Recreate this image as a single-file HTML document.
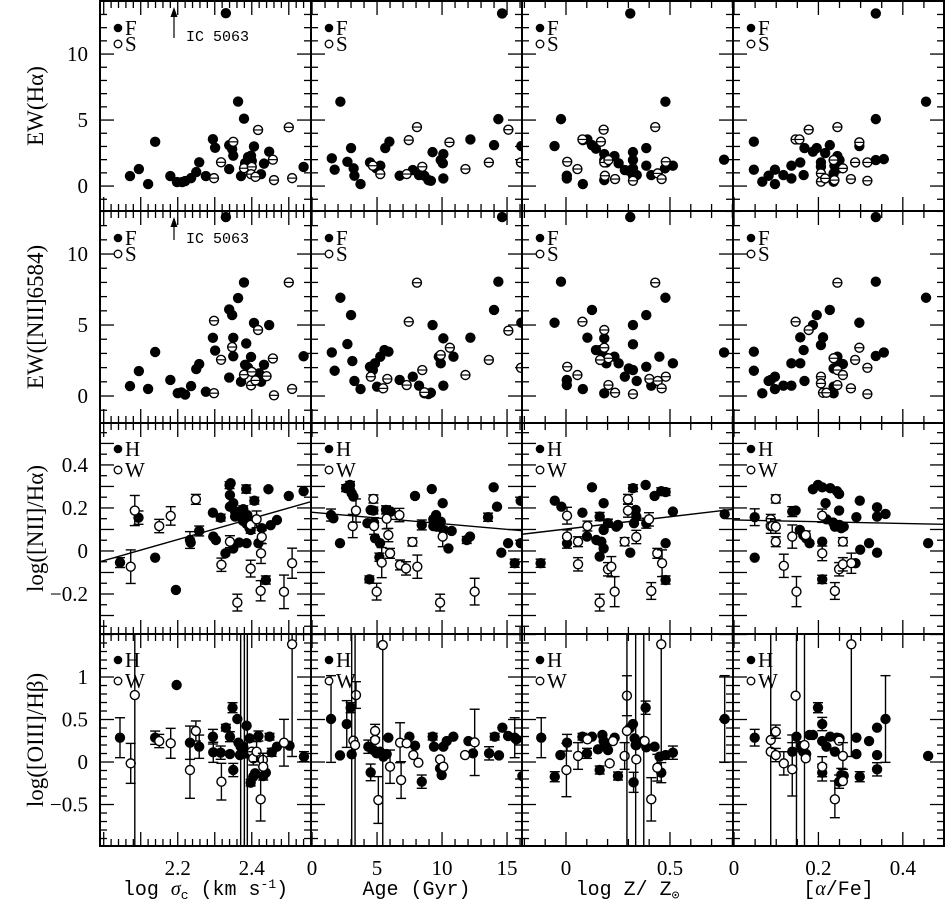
<!DOCTYPE html>
<html><head><meta charset="utf-8"><style>
html,body{margin:0;padding:0;background:#fff;overflow:hidden;width:946px;height:910px;}
svg{display:block;}
</style></head><body>
<svg id="chart" width="946" height="910" viewBox="0 0 946 910" xmlns="http://www.w3.org/2000/svg"></svg>
<script>
// ---------- DATA ----------
const p11FX=[2.071,2.095,2.12,2.139,2.18,2.198,2.212,2.22,2.236,2.25,2.258,2.276,2.295,2.301,2.33,2.339,2.339,2.347,2.35,2.363,2.371,2.379,2.382,2.39,2.4,2.398,2.406,2.425,2.433,2.447,2.54];
const p11FY=[0.76,1.29,0.15,3.35,0.76,0.3,0.3,0.38,0.6,1.06,1.8,0.76,3.55,2.9,13.1,1.29,3.1,2.8,2.3,6.4,0.76,5.1,1.74,2.2,1.9,2.3,3.0,0.9,1.7,2.6,1.45];
const p11OX=[2.298,2.317,2.35,2.379,2.4,2.398,2.41,2.417,2.457,2.46,2.5,2.509];
const p11OY=[0.6,1.8,3.35,1.35,1.45,0.9,0.7,4.25,2.0,0.45,4.45,0.6];

const p12FX=[2.071,2.095,2.12,2.139,2.18,2.2,2.21,2.22,2.236,2.25,2.258,2.276,2.295,2.301,2.33,2.339,2.347,2.35,2.339,2.35,2.363,2.371,2.379,2.385,2.382,2.39,2.398,2.406,2.42,2.433,2.447,2.425,2.43,2.54];
const p12FY=[0.7,1.76,0.5,3.1,1.13,0.2,0.25,0.1,0.7,1.9,2.25,0.3,4.1,3.2,12.6,6.1,5.7,4.1,1.3,2.8,6.9,1.0,8.0,3.7,2.2,2.0,2.75,5.15,1.6,2.2,5.0,1.0,1.3,2.8];
const p12OX=[2.298,2.298,2.317,2.347,2.379,2.4,2.398,2.41,2.417,2.44,2.457,2.46,2.5,2.509];
const p12OY=[5.3,0.2,2.55,3.45,1.5,1.7,0.75,1.1,4.65,1.4,2.65,0.05,8.0,0.5];

const p21FX=[2.18,3.0,1.52,1.74,2.72,3.2,3.26,3.73,4.46,4.94,5.25,5.63,5.95,6.74,7.75,8.23,8.64,8.95,9.14,9.27,10.1,9.9,10.06,10.1,12.18,14.0,14.33,14.62,16.1];
const p21FY=[6.39,2.88,2.1,1.24,1.84,1.34,0.78,0.15,1.79,1.34,1.54,2.88,3.36,0.78,1.21,0.83,0.78,0.45,0.4,2.57,2.42,1.97,1.72,0.58,3.53,3.1,5.07,13.08,3.03];
const p21OX=[4.68,5.25,7.44,8.07,7.28,8.48,10.57,11.8,13.6,15.1,16.07];
const p21OY=[1.54,0.91,3.48,4.47,0.91,1.46,3.31,1.29,1.79,4.27,1.79];

const p22FX=[1.52,1.74,2.18,2.72,3.0,3.1,3.26,3.73,4.46,4.68,4.84,5.0,5.25,5.57,5.88,6.74,7.75,8.23,8.64,8.95,9.14,9.27,10.1,9.75,9.9,10.1,10.88,12.18,14.0,14.33,14.62,16.1];
const p22FY=[3.07,1.78,6.92,3.66,5.7,2.46,1.06,0.49,2.06,1.83,2.3,0.66,2.77,3.24,3.12,1.13,1.36,0.73,0.19,0.14,0.23,5.0,4.06,2.77,2.3,0.73,2.77,4.11,6.06,8.05,12.6,5.16];
const p22OX=[4.52,5.47,5.79,7.28,7.44,8.07,8.48,8.64,10.6,9.9,11.8,13.6,15.1,16.07];
const p22OY=[1.36,0.54,1.2,0.77,5.23,7.98,1.83,0.26,3.4,2.89,1.48,2.54,4.6,1.99];

const p31FX=[-0.055,-0.024,0.004,0.004,0.081,0.081,0.103,0.125,0.144,0.184,0.184,0.194,0.233,0.253,0.283,0.302,0.322,0.322,0.322,0.322,0.34,0.386,0.386,0.41,0.478,0.476,0.514,0.309,0.184,0.76];
const p31FY=[3.03,5.07,0.78,0.58,0.15,3.48,3.53,3.1,2.83,2.42,1.97,1.79,2.27,1.72,1.21,1.16,2.57,1.97,1.34,0.78,0.83,2.88,1.54,0.83,6.39,1.34,1.54,13.08,0.45,2.0];
const p31OX=[0.006,0.055,0.079,0.168,0.181,0.184,0.204,0.187,0.236,0.322,0.429,0.441,0.46,0.48];
const p31OY=[1.84,1.29,3.53,3.36,4.27,1.79,1.97,0.78,0.53,0.4,4.47,0.96,0.53,1.84];

const p32FX=[-0.055,-0.024,0.004,0.004,0.081,0.103,0.125,0.144,0.164,0.184,0.184,0.194,0.233,0.253,0.283,0.302,0.322,0.322,0.322,0.34,0.386,0.386,0.41,0.449,0.478,0.514,0.309,0.184,0.76];
const p32FY=[5.16,8.05,1.13,0.77,0.49,4.11,6.06,3.24,3.24,4.06,2.77,2.3,2.77,2.3,1.36,1.94,5.0,3.64,1.83,1.06,5.7,2.06,0.73,2.77,6.92,2.3,12.6,0.19,3.07];
const p32OX=[0.006,0.055,0.079,0.184,0.184,0.204,0.164,0.204,0.236,0.322,0.429,0.401,0.441,0.46,0.48];
const p32OY=[2.06,1.48,5.23,4.65,3.4,2.66,2.54,0.77,0.23,0.14,7.98,1.2,1.06,0.54,1.36];

const p41FX=[0.047,0.047,0.067,0.082,0.097,0.097,0.117,0.136,0.136,0.157,0.165,0.167,0.187,0.196,0.206,0.206,0.216,0.227,0.236,0.236,0.245,0.25,0.297,0.336,0.336,0.355,0.336,0.455,0.238,0.248];
const p41FY=[3.36,1.24,0.33,0.78,1.24,0.15,0.83,1.54,0.58,1.79,0.83,2.88,2.6,2.88,1.79,1.46,2.5,3.1,0.33,0.96,2.27,1.97,3.03,5.07,1.97,2.04,13.08,6.39,1.54,1.34];
const p41OX=[0.146,0.177,0.155,0.206,0.206,0.216,0.236,0.245,0.258,0.277,0.287,0.297,0.316,0.316,0.238];
const p41OY=[3.53,4.27,3.53,0.96,0.33,0.58,1.97,4.47,1.34,0.53,1.79,3.31,1.79,0.4,0.45];

const p42FX=[0.047,0.047,0.067,0.082,0.087,0.097,0.097,0.117,0.136,0.136,0.157,0.157,0.165,0.167,0.187,0.196,0.206,0.211,0.227,0.236,0.236,0.245,0.25,0.258,0.297,0.336,0.336,0.355,0.336,0.455,0.236];
const p42FY=[3.12,1.78,0.19,1.06,1.13,1.36,0.49,0.73,0.73,2.3,4.13,2.3,3.24,1.06,5.0,5.7,3.59,4.13,6.06,0.19,0.66,2.77,2.3,2.25,5.16,8.05,2.82,3.07,12.6,6.92,1.94];
const p42OX=[0.146,0.177,0.206,0.206,0.211,0.219,0.236,0.245,0.245,0.258,0.277,0.287,0.297,0.316,0.316,0.245];
const p42OY=[5.23,4.65,1.36,0.89,0.23,0.23,2.66,1.83,7.98,1.48,0.54,2.54,3.4,1.99,0.14,0.77];

const p13FX=[2.044,2.094,2.139,2.195,2.233,2.235,2.258,2.295,2.296,2.303,2.316,2.329,2.34,2.341,2.341,2.35,2.35,2.355,2.355,2.366,2.366,2.368,2.377,2.382,2.385,2.386,2.388,2.394,2.397,2.407,2.418,2.427,2.438,2.445,2.451,2.468,2.5,2.54,2.343,2.386,2.376];
const p13FY=[-0.054,0.155,-0.031,-0.181,0.051,0.039,0.093,0.178,0.067,0.051,0.155,-0.011,0.306,0.26,0.206,0.222,0.012,0.183,0.16,0.039,0.167,0.183,0.194,0.144,0.288,0.036,0.167,0.106,0.098,0.234,0.036,0.106,-0.135,0.287,0.12,0.144,0.256,0.278,0.315,0.126,0.14];
const p13FE=[0.023,0.031,0,0,0.039,0,0.023,0,0,0,0.016,0,0.016,0,0,0,0,0,0,0,0,0,0.016,0,0.019,0,0,0,0,0.016,0,0,0.019,0,0,0,0,0,0,0,0];
const p13OX=[2.073,2.084,2.15,2.181,2.249,2.318,2.341,2.361,2.397,2.397,2.413,2.425,2.427,2.424,2.487,2.509];
const p13OY=[-0.073,0.188,0.116,0.163,0.24,-0.064,0.043,-0.24,-0.082,0.121,0.147,-0.011,0.065,-0.185,-0.19,-0.057];
const p13OE=[0.078,0.07,0.031,0.043,0.023,0.031,0.028,0.039,0.039,0.039,0.039,0.047,0.031,0.047,0.078,0.07];
const p13Fit=[0.49,-1.025];

const p23FX=[1.46,1.64,2.15,2.62,2.92,3.05,3.18,4.26,4.41,4.51,4.72,4.77,4.85,5.18,5.23,5.69,6.05,7.92,8.44,9.21,9.33,9.54,9.59,9.9,10.05,10.1,10.49,10.74,11.9,12.15,9.33,13.54,13.97,14.23,14.56,15.08,15.59,16.05,16.05];
const p23FY=[0.167,0.152,0.036,0.292,0.307,0.268,0.253,0.129,-0.132,0.191,0.188,0.132,0.059,-0.029,0.036,0.191,0.183,0.256,0.121,0.288,0.147,0.167,0.113,0.136,0.222,0.098,0.012,0.093,0.051,0.067,0.116,0.157,0.296,0.206,-0.008,0.036,-0.057,0.233,0.036];
const p23FE=[0.028,0,0,0.016,0.016,0,0,0,0.016,0,0.016,0,0,0.019,0,0.019,0,0,0.023,0,0,0,0,0,0,0,0,0,0.016,0,0,0.019,0,0,0,0,0.019,0,0];
const p23OX=[3.13,3.38,4.72,4.77,4.97,5.36,5.74,5.87,6.0,6.72,6.77,7.23,7.72,8.1,9.85,10.05,12.51];
const p23OY=[0.116,0.188,0.242,0.116,-0.189,-0.054,0.15,0.074,-0.011,0.167,-0.065,-0.081,0.042,-0.073,-0.24,0.067,-0.189];
const p23OE=[0.054,0.054,0.019,0.039,0.039,0.07,0.047,0.031,0.023,0.031,0.023,0.031,0.019,0.054,0.039,0.047,0.062];
const p23Fit=[-0.0053,0.18];

const p33FX=[-0.122,-0.054,-0.022,0.005,0.079,0.101,0.125,0.146,0.162,0.162,0.17,0.181,0.181,0.181,0.202,0.242,0.25,0.309,0.322,0.335,0.338,0.327,0.383,0.386,0.426,0.458,0.479,0.479,0.479,0.514,0.763];
const p33FY=[-0.057,0.234,0.206,0.036,0.178,0.067,0.296,0.051,0.16,-0.026,0.043,0.222,0.098,0.012,0.129,0.113,0.121,-0.008,0.292,0.191,0.16,0.129,0.307,0.129,0.256,0.278,0.274,0.036,-0.135,0.183,0.171];
const p33FE=[0.019,0,0,0.023,0,0,0,0,0.019,0,0,0,0,0,0.019,0,0,0,0.016,0,0,0,0,0.023,0,0.016,0.016,0,0.019,0,0];
const p33OX=[0.005,0.005,0.058,0.058,0.103,0.162,0.202,0.218,0.234,0.282,0.298,0.298,0.338,0.399,0.41,0.439,0.462];
const p33OY=[0.164,0.067,0.043,-0.062,0.116,-0.24,-0.085,-0.073,-0.189,0.043,0.24,0.188,0.065,0.147,-0.186,-0.011,-0.057];
const p33OE=[0.039,0.031,0.023,0.031,0.023,0.039,0.031,0.047,0.07,0.019,0.023,0.031,0.031,0.031,0.039,0.023,0.062];
const p33Fit=[0.1145,0.102];

const p43FX=[0.049,0.049,0.138,0.146,0.156,0.164,0.171,0.179,0.187,0.199,0.209,0.209,0.209,0.217,0.219,0.228,0.235,0.239,0.244,0.249,0.249,0.25,0.254,0.26,0.29,0.298,0.299,0.32,0.339,0.339,0.339,0.359,0.288,0.46];
const p43FY=[0.157,-0.031,0.183,0.188,0.098,0.074,0.059,0.036,0.287,0.307,0.296,0.043,-0.132,0.222,0.147,0.292,0.132,0.113,0.278,0.265,0.188,0.121,0.106,0.113,0.157,0.234,0.006,0.036,0.203,0.16,-0.008,0.172,-0.057,0.036];
const p43FE=[0.039,0,0.023,0,0,0,0,0,0,0,0,0,0.019,0,0,0,0,0,0,0,0,0,0,0,0,0,0,0,0,0,0,0,0,0];
const p43OX=[0.087,0.087,0.091,0.099,0.099,0.099,0.118,0.138,0.148,0.17,0.209,0.209,0.239,0.249,0.258,0.258,0.278];
const p43OY=[0.147,0.116,0.116,0.242,0.113,0.043,-0.069,0.067,-0.189,0.074,0.164,-0.011,-0.186,-0.085,0.043,-0.062,-0.057];
const p43OE=[0.023,0.034,0,0.019,0.031,0.023,0.054,0.054,0.07,0.019,0.031,0.034,0.039,0.031,0.019,0.031,0.047];
const p43Fit=[-0.04,0.144];

const p14FX=[2.044,2.139,2.197,2.233,2.258,2.295,2.296,2.316,2.33,2.341,2.348,2.341,2.35,2.361,2.364,2.368,2.377,2.37,2.38,2.386,2.388,2.394,2.397,2.404,2.409,2.418,2.431,2.438,2.448,2.454,2.468,2.502,2.541];
const p14FY=[0.286,0.286,0.906,0.227,0.18,0.298,0.114,0.11,0.404,0.298,0.639,0.094,-0.094,0.506,0.227,0.082,0.18,0.18,0.1,0.427,0.102,0.278,-0.243,-0.173,-0.133,0.306,-0.165,-0.125,0.298,0.114,0.18,0.192,0.063];
const p14FE=[0.235,0.078,0,0.196,0.137,0.086,0.118,0.078,0.039,0.059,0.059,0,0.078,0,0,0,0,3,3,0,2,0,0.039,0,0,0.059,0,0,0.039,0.047,0,0,0.059];
const p14OX=[2.073,2.084,2.15,2.181,2.233,2.249,2.318,2.4,2.404,2.413,2.424,2.43,2.431,2.487,2.509];
const p14OY=[-0.016,0.788,0.247,0.22,-0.094,0.365,-0.231,0.122,0.043,0.122,-0.439,0.024,-0.055,0.227,1.385];
const p14OE=[0.235,1.8,0.078,0.176,0.333,0.118,0.216,0,0.078,0.118,0.255,0.078,0.157,0.275,1.32];

const p24FX=[1.46,2.15,2.67,2.97,3.05,4.33,4.51,4.72,4.97,5.23,5.49,5.74,5.87,7.49,7.92,8.44,9.28,9.38,9.85,9.97,10.1,10.36,10.87,12.03,13.62,14.05,14.38,14.64,15.08,15.59,15.72,16.18,12.38];
const p24FY=[0.506,0.078,0.447,0.639,0.09,0.18,-0.122,0.141,0.102,0.122,0.063,0.094,0.286,0.298,0.192,-0.231,0.298,0.18,-0.075,-0.153,0.18,0.247,0.298,0.247,0.102,0.298,0.078,0.404,0.306,0.286,0.267,-0.165,0.102];
const p24FE=[0.51,0,0.275,0.059,3,0.078,0.098,0,0,0,0,0,0,0,0,0.078,0.039,0,0,0,0,0,0,0,0.078,0.039,0,0,0,0.235,0,0,0];
const p24OX=[3.38,3.18,3.31,4.85,4.85,5.1,5.44,6.0,6.77,6.85,7.28,7.79,8.18,9.85,10.1,11.77,12.51];
const p24OY=[0.788,0.251,0.2,0.365,0.259,-0.447,1.376,-0.055,0.227,-0.212,0.22,0.082,-0.008,0.031,-0.055,0.082,0.231];
const p24OE=[0.157,0,3,0.078,0,0.275,3,0.196,0.235,0.216,0,0,0,0,0,0,0.39];

const p34FX=[-0.119,-0.054,-0.027,0.005,0.079,0.101,0.125,0.154,0.162,0.175,0.181,0.194,0.202,0.234,0.25,0.306,0.322,0.325,0.33,0.338,0.335,0.383,0.386,0.426,0.45,0.458,0.479,0.514,0.763];
const p34FY=[0.286,-0.173,0.082,0.227,0.298,0.102,0.298,0.149,-0.094,0.318,0.247,0.18,0.141,0.286,-0.165,0.396,0.447,-0.239,0.278,0.2,0.2,0.639,0.173,0.18,0.063,-0.125,0.082,0.11,0.506];
const p34FE=[0.235,0.059,0,0.098,0.039,0.059,0,0,0.047,0,0,0,0,0,0.047,0,0,0.118,0,0,3,0.078,0,0,0,0.118,0,0.078,0.51];
const p34OX=[0.002,0.058,0.103,0.21,0.226,0.282,0.293,0.293,0.338,0.374,0.378,0.41,0.439,0.458];
const p34OY=[-0.094,0.071,0.267,-0.016,0.247,0.071,0.78,0.365,0.031,0.25,0.247,-0.439,-0.067,1.385];
const p34OE=[0.314,0.157,0,0,0,0.157,0.235,3,0,3,0,0.255,0.157,1.32];

const p44FX=[0.049,0.138,0.148,0.158,0.164,0.171,0.179,0.187,0.199,0.209,0.209,0.209,0.219,0.228,0.239,0.244,0.249,0.25,0.254,0.26,0.29,0.29,0.298,0.32,0.339,0.339,0.339,0.359,0.46];
const p44FY=[0.286,0.122,0.298,0.18,0.122,0.094,0.318,0.318,0.639,0.447,0.247,-0.125,0.18,0.298,0.122,0.286,-0.231,0.278,-0.153,-0.161,0.286,0.094,-0.173,0.247,0.404,0.082,-0.086,0.506,0.071];
const p44FE=[0.098,0.196,3,0.059,0,0,0,0,0.059,0.078,0,0.098,0,0,0,0,0.078,0,0.078,0,0,0,0.059,0,0,0,0.078,0.51,0];
const p44OX=[0.087,0.087,0.099,0.099,0.118,0.138,0.146,0.167,0.17,0.209,0.239,0.249,0.258,0.258,0.278];
const p44OY=[0.259,0.122,0.357,0.082,-0.016,-0.086,0.78,0.2,0.043,-0.055,-0.439,0.251,0.071,-0.224,1.385];
const p44OE=[3,0,0.078,0.078,0.137,0.314,0,1.5,0,0.118,0.216,0,0.157,0,1.32];

const xTickLabels=[[2.2,2.4],[0,5,10,15],[0,0.5],[0,0.2,0.4]];
const yTickLabels=[[0,5,10],[0,5,10],[-0.2,0,0.2,0.4],[-0.5,0,0.5,1]];
const yTitles=["EW(Hα)","EW([NII]6584)","log([NII]/Hα)","log([OIII]/Hβ)"];

// ---------- LAYOUT ----------
const colX=[100,311,522,733,944];
const rowY=[1,211,423,634,846];
const xDom=[[1.99,2.56],[-0.08,16.15],[-0.2115,0.803],[-0.0024,0.4976]];
const yDom=[[-1.89,14.02],[-1.9,13.03],[-0.386,0.595],[-0.988,1.506]];
const xTickStep=[[0.1,0.02],[5,1],[0.5,0.1],[0.2,0.05]];
const yTickStep=[[5,1],[5,1],[0.1,0.05],[0.5,0.1]];

const NS="http://www.w3.org/2000/svg";
const svg=document.getElementById('chart');
function mk(tag,attrs,parent){const e=document.createElementNS(NS,tag);for(const k in attrs)e.setAttribute(k,attrs[k]);(parent||svg).appendChild(e);return e;}
function xs(c,v){const d=xDom[c];return colX[c]+(v-d[0])/(d[1]-d[0])*(colX[c+1]-colX[c]);}
function ys(r,v){const d=yDom[r];return rowY[r+1]-(v-d[0])/(d[1]-d[0])*(rowY[r+1]-rowY[r]);}

const panels={
 '0_0':[p11FX,p11FY,null,p11OX,p11OY,null,null],
 '0_1':[p12FX,p12FY,null,p12OX,p12OY,null,null],
 '1_0':[p21FX,p21FY,null,p21OX,p21OY,null,null],
 '1_1':[p22FX,p22FY,null,p22OX,p22OY,null,null],
 '2_0':[p31FX,p31FY,null,p31OX,p31OY,null,null],
 '2_1':[p32FX,p32FY,null,p32OX,p32OY,null,null],
 '3_0':[p41FX,p41FY,null,p41OX,p41OY,null,null],
 '3_1':[p42FX,p42FY,null,p42OX,p42OY,null,null],
 '0_2':[p13FX,p13FY,p13FE,p13OX,p13OY,p13OE,p13Fit],
 '1_2':[p23FX,p23FY,p23FE,p23OX,p23OY,p23OE,p23Fit],
 '2_2':[p33FX,p33FY,p33FE,p33OX,p33OY,p33OE,p33Fit],
 '3_2':[p43FX,p43FY,p43FE,p43OX,p43OY,p43OE,p43Fit],
 '0_3':[p14FX,p14FY,p14FE,p14OX,p14OY,p14OE,null],
 '1_3':[p24FX,p24FY,p24FE,p24OX,p24OY,p24OE,null],
 '2_3':[p34FX,p34FY,p34FE,p34OX,p34OY,p34OE,null],
 '3_3':[p44FX,p44FY,p44FE,p44OX,p44OY,p44OE,null]
};

const defs=mk('defs',{});
function ticksFor(dom,step){const out=[];const s=Math.ceil(dom[0]/step-1e-6);for(let i=s;i*step<=dom[1]+1e-9;i++)out.push(+(i*step).toFixed(6));return out;}
function isMajor(v,step){return Math.abs(v/step-Math.round(v/step))<1e-4;}

for(let c=0;c<4;c++){for(let r=0;r<4;r++){
  const x0=colX[c],x1=colX[c+1],y0=rowY[r],y1=rowY[r+1];
  const g=mk('g',{});
  
  
  const cp=mk('clipPath',{id:'cp'+c+r},defs);
  mk('rect',{x:x0,y:y0,width:x1-x0,height:y1-y0},cp);
  const tg=mk('g',{stroke:'#000','stroke-width':1.3},g);
  
  
  const xst=xTickStep[c];
  ticksFor(xDom[c],xst[1]).forEach(v=>{const X=xs(c,v);const L=isMajor(v,xst[0])?14:7;
    mk('line',{x1:X,x2:X,y1:y1,y2:y1-L},tg);mk('line',{x1:X,x2:X,y1:y0,y2:y0+L},tg);});
  const yst=yTickStep[r];
  ticksFor(yDom[r],yst[1]).forEach(v=>{const Y=ys(r,v);const L=isMajor(v,yst[0])?14:7;
    mk('line',{x1:x0,x2:x0+L,y1:Y,y2:Y},tg);mk('line',{x1:x1,x2:x1-L,y1:Y,y2:Y},tg);});
  const d=panels[c+'_'+r];
  const dg=mk('g',{'clip-path':'url(#cp'+c+r+')'},g);
  
  
  if(d[6]){const f=d[6];const a=xDom[c][0],b=xDom[c][1];
    const ln=mk('line',{x1:xs(c,a),y1:ys(r,f[0]*a+f[1]),x2:xs(c,b),y2:ys(r,f[0]*b+f[1]),stroke:'#000','stroke-width':1.4},dg);
    
    }
  function errbar(X,v,e){if(!e)return;let Yt=ys(r,v+e),Yb=ys(r,v-e);
    const capT=Yt>=y0, capB=Yb<=y1;
    Yt=Math.max(Yt,y0);Yb=Math.min(Yb,y1);
    mk('line',{x1:X,x2:X,y1:Yt,y2:Yb,stroke:'#000','stroke-width':1.4},dg);
    if(capT)mk('line',{x1:X-5,x2:X+5,y1:Yt,y2:Yt,stroke:'#000','stroke-width':1.4},dg);
    if(capB)mk('line',{x1:X-5,x2:X+5,y1:Yb,y2:Yb,stroke:'#000','stroke-width':1.4},dg);}
  for(let i=0;i<d[0].length;i++){const X=xs(c,d[0][i]),Y=ys(r,d[1][i]);
    if(d[2])errbar(X,d[1][i],d[2][i]);
    const p=mk('circle',{cx:X,cy:Y,r:5.2,fill:'#000'},dg);
    
    }
  for(let i=0;i<d[3].length;i++){const X=xs(c,d[3][i]),Y=ys(r,d[4][i]);
    if(d[5])errbar(X,d[4][i],d[5][i]);
    const p=mk('circle',{cx:X,cy:Y,r:4.5,fill:'#fff',stroke:'#000','stroke-width':1.4},dg);
    
    
    if(!d[5])mk('line',{x1:X-4.5,x2:X+4.5,y1:Y,y2:Y,stroke:'#000','stroke-width':1.2},dg);}
  const lg=mk('g',{},g);
  
  
  const labs=r<2?['F','S']:['H','W'];
  const ly=r<2?[y0+27,y0+43]:[y0+26,y0+47];
  mk('circle',{cx:x0+18,cy:ly[0],r:4.3,fill:'#000'},lg);
  mk('circle',{cx:x0+18,cy:ly[1],r:3.8,fill:'#fff',stroke:'#000','stroke-width':1.3},lg);
  const t1=mk('text',{x:x0+25,y:ly[0]+7,'font-family':'Liberation Serif, serif','font-size':21},lg);t1.textContent=labs[0];
  const t2=mk('text',{x:x0+25,y:ly[1]+7,'font-family':'Liberation Serif, serif','font-size':21},lg);t2.textContent=labs[1];
  const fr=mk('rect',{x:x0,y:y0,width:x1-x0,height:y1-y0,fill:'none',stroke:'#000','stroke-width':2},g);
  
  
}}

[[1,38,41],[211,240,243]].forEach((a)=>{
  const g=mk('g',{});
  
  
  mk('line',{x1:174,x2:174,y1:a[1],y2:a[0]+8,stroke:'#000','stroke-width':1.2},g);
  mk('path',{d:'M170.5,'+(a[0]+16)+' L174,'+(a[0]+6)+' L177.5,'+(a[0]+16)+' Z',fill:'#000'},g);
  const t=mk('text',{x:186,y:a[2],'font-family':'Liberation Mono, monospace','font-size':15},g);t.textContent='IC 5063';
});

for(let c=0;c<4;c++){xTickLabels[c].forEach(v=>{
  const t=mk('text',{x:xs(c,v),y:875,'text-anchor':'middle','font-family':'Liberation Serif, serif','font-size':21});
  
  
  t.textContent=String(v);});}
for(let r=0;r<4;r++){yTickLabels[r].forEach(v=>{
  const t=mk('text',{x:88,y:ys(r,v)+7,'text-anchor':'end','font-family':'Liberation Serif, serif','font-size':21});
  
  
  t.textContent=(v<0?'−'+String(-v):String(v));});}

const titleParts=[
 [['log ',0,0],['σ',1,0],['c',0,4],[' (km s',0,0],['-1',0,-7],[')',0,0]],
 [['Age (Gyr)',0,0]],
 [['log Z/ Z',0,0],['⊙',0,4]],
 [['[',0,0],['α',1,0],['/Fe]',0,0]]
];
for(let c=0;c<4;c++){
  const t=mk('text',{x:(colX[c]+colX[c+1])/2,y:895,'text-anchor':'middle','font-family':'Liberation Mono, monospace','font-size':20});
  
  
  let cur=0;
  titleParts[c].forEach(p=>{const s=mk('tspan',{},t);s.textContent=p[0];
    if(p[1]){s.setAttribute('font-family','Liberation Serif, serif');s.setAttribute('font-style','italic');}
    if(p[2]!==0)s.setAttribute('font-size',13);
    const dy=p[2]-cur;if(dy!==0)s.setAttribute('dy',dy);cur=p[2];});
}
for(let r=0;r<4;r++){
  const cy=(rowY[r]+rowY[r+1])/2;
  const t=mk('text',{x:0,y:0,transform:'translate(43,'+cy+') rotate(-90)','text-anchor':'middle','font-family':'Liberation Serif, serif','font-size':23});
  
  
  t.textContent=yTitles[r];
}
</script>
</body></html>
